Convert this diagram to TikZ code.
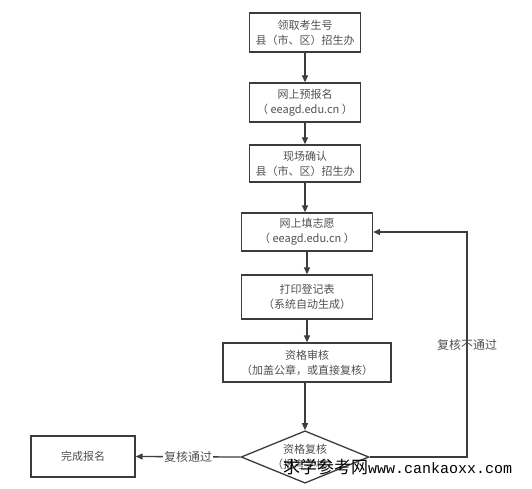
\documentclass[tikz,border=0pt]{standalone}
\usepackage{fontspec}
\usepackage{xcolor}
\usepackage{tikz}
\usetikzlibrary{positioning, arrows.meta, shapes.geometric}
\newfontfamily\cjk{Noto Sans CJK SC}
\newfontfamily\urlfont{Liberation Mono}
\definecolor{lineg}{HTML}{3C3C3C}
\definecolor{textg}{HTML}{505050}

\begin{document}
\begin{tikzpicture}[x=1pt, y=-1pt,
    stepbox/.style={draw=lineg, line width=1.3pt, align=center, inner sep=0pt,
      font=\cjk\fontsize{11}{15}\selectfont, text=textg},
    checkbox/.style={diamond, draw=lineg, line width=1.3pt, align=center, inner sep=0pt,
      minimum width=122pt, minimum height=50pt, aspect=2.44,
      font=\cjk\fontsize{11}{15}\selectfont, text=textg},
    flow/.style={draw=lineg, line width=1.3pt, -{Triangle[length=7pt, width=6pt]}},
    flowlabel/.style={font=\cjk\fontsize{12}{14}\selectfont, text=textg}]
  \useasboundingbox (0,0) rectangle (532,489);

  \node[stepbox, minimum width=111pt, minimum height=39pt] (get) at (305,32.5)
      {领取考生号\\县（市、区）招生办};
  \node[stepbox, minimum width=111pt, minimum height=39pt] (pre) at (305,102.5)
      {网上预报名\\（ eeagd.edu.cn ）};
  \node[stepbox, minimum width=111pt, minimum height=37pt] (conf) at (305,163.5)
      {现场确认\\县（市、区）招生办};
  \node[stepbox, minimum width=131pt, minimum height=38pt] (wish) at (307,232)
      {网上填志愿\\（ eeagd.edu.cn ）};
  \node[stepbox, minimum width=131pt, minimum height=44pt] (print) at (307,297)
      {打印登记表\\（系统自动生成）};
  \node[stepbox, minimum width=168pt, minimum height=39pt] (audit) at (307,362.5)
      {资格审核\\（加盖公章，或直接复核）};
  \node[checkbox] (recheck) at (305,457) {资格复核\\（报考学校）};
  \node[stepbox, minimum width=104pt, minimum height=41pt] (done) at (83,456.5) {完成报名};

  \coordinate (turn1) at (467,457);
  \coordinate (turn2) at (467,232);

  \draw[flow] (get) -- (pre);
  \draw[flow] (pre) -- (conf);
  \draw[flow] (conf.south) -- (conf.south |- wish.north);
  \draw[flow] (wish) -- (print);
  \draw[flow] (print) -- (audit);
  \draw[flow] (audit.south) -- (audit.south -| recheck.north) -- (recheck.north);
  \draw[flow] (recheck.west) -- node[flowlabel, fill=white, inner sep=1pt] {复核通过} (done.east);
  \draw[flow] (recheck.east) -- (turn1) -- node[flowlabel, pos=0.5] {复核不通过} (turn2) -- (wish.east);

  % watermark
  \node[anchor=west, inner sep=0pt] (mark) at (283,467)
      {\cjk\fontsize{17}{17}\selectfont 求学参考网\urlfont\fontsize{15}{15}\selectfont www.cankaoxx.com};
\end{tikzpicture}
\end{document}
